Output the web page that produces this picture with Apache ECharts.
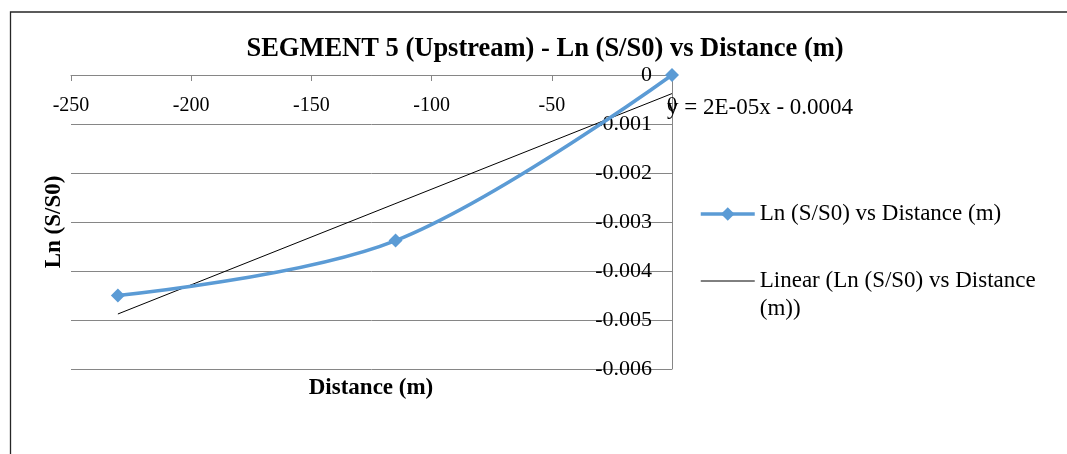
<!DOCTYPE html>
<html>
<head>
<meta charset="utf-8">
<script src="https://cdn.jsdelivr.net/npm/echarts@6/dist/echarts.min.js"></script>
<style>
  html, body { margin: 0; padding: 0; background: #ffffff; }
  #chart { width: 1067px; height: 454px; }
</style>
</head>
<body>
<div id="chart"></div>
<script>
// Measured points: distance upstream (m) and ln(S/S0)
const distances = [-230.5, -115, 0];
const lnRatio = [-0.0045, -0.00338, 0];

// Axis ranges and tick steps
const xRange = { min: -250, max: 0, interval: 50 };
const yRange = { min: -0.006, max: 0, interval: 0.001 };

// Texts
const chartTitle = 'SEGMENT 5 (Upstream) - Ln (S/S0) vs Distance (m)';
const xTitle = 'Distance (m)';
const yTitle = 'Ln (S/S0)';
const seriesName = 'Ln (S/S0) vs Distance (m)';
const trendName = 'Linear (Ln (S/S0) vs Distance (m))';
// leading empty line keeps the first text line level with the legend icon
const trendLegendText = '\nLinear (Ln (S/S0) vs Distance\n(m))';
const equationText = 'y = 2E-05x - 0.0004';

const FONT = '"Liberation Serif", "Times New Roman", serif';
const BLUE = '#5B9BD5';
const GRID_GREY = '#868686';

// Least-squares linear fit over the measured points
function linearFit(xs, ys) {
  const n = xs.length;
  const mx = xs.reduce((a, b) => a + b, 0) / n;
  const my = ys.reduce((a, b) => a + b, 0) / n;
  let sxx = 0, sxy = 0;
  for (let i = 0; i < n; i++) {
    sxx += (xs[i] - mx) * (xs[i] - mx);
    sxy += (xs[i] - mx) * (ys[i] - my);
  }
  const slope = sxy / sxx;
  return { slope: slope, intercept: my - slope * mx };
}
const fit = linearFit(distances, lnRatio);
const xLo = Math.min.apply(null, distances);
const xHi = Math.max.apply(null, distances);
const trendData = [
  [xLo, fit.slope * xLo + fit.intercept],
  [xHi, fit.slope * xHi + fit.intercept]
];
const pointData = distances.map((d, i) => [d, lnRatio[i]]);

const chart = echarts.init(document.getElementById('chart'), null, { renderer: 'canvas' });

chart.setOption({
  animation: false,
  backgroundColor: '#ffffff',
  textStyle: { fontFamily: FONT },
  title: {
    text: chartTitle,
    left: 545,
    top: 36,
    textAlign: 'center',
    padding: 0,
    textStyle: { fontFamily: FONT, fontSize: 26.5, fontWeight: 'bold', color: '#000' }
  },
  grid: { left: 71, right: 395, top: 75, bottom: 85, containLabel: false },
  xAxis: {
    type: 'value',
    position: 'top',
    min: xRange.min,
    max: xRange.max,
    interval: xRange.interval,
    axisLine: { show: true, onZero: false, lineStyle: { color: GRID_GREY, width: 1 } },
    axisTick: { show: true, inside: true, length: 6, lineStyle: { color: GRID_GREY } },
    axisLabel: { inside: true, color: '#000', fontFamily: FONT, fontSize: 20, margin: 21 },
    splitLine: { show: false }
  },
  yAxis: {
    type: 'value',
    position: 'right',
    min: yRange.min,
    max: yRange.max,
    interval: yRange.interval,
    axisLine: { show: true, onZero: false, lineStyle: { color: GRID_GREY, width: 1 } },
    axisTick: { show: false },
    axisLabel: { inside: true, margin: 20, color: '#000', fontFamily: FONT, fontSize: 22 },
    splitLine: { show: true, lineStyle: { color: GRID_GREY, width: 1 } }
  },
  legend: {
    orient: 'vertical',
    left: 699,
    top: 200,
    padding: 0,
    itemWidth: 54,
    itemHeight: 17,
    itemGap: 11,
    textStyle: { fontFamily: FONT, fontSize: 23, color: '#000', lineHeight: 28 },
    data: [
      { name: seriesName, lineStyle: { width: 3.5, color: BLUE } },
      {
        name: trendName,
        lineStyle: { width: 1, color: '#000' },
        itemStyle: { color: 'rgba(0,0,0,0)', borderWidth: 0, opacity: 0 }
      }
    ],
    formatter: function (name) {
      return name === trendName ? trendLegendText : name;
    }
  },
  graphic: [
    {
      type: 'rect',
      silent: true,
      shape: { x: 10.5, y: 12, width: 2000, height: 1000 },
      style: { fill: 'none', stroke: '#262626', lineWidth: 1.3 }
    },
    {
      type: 'text',
      silent: true,
      x: 371,
      y: 388,
      style: {
        text: xTitle,
        x: 0,
        y: 0,
        align: 'center',
        verticalAlign: 'middle',
        font: 'bold 23px ' + FONT,
        fill: '#000'
      }
    },
    {
      type: 'text',
      silent: true,
      x: 54,
      y: 222,
      rotation: Math.PI / 2,
      style: {
        text: yTitle,
        x: 0,
        y: 0,
        align: 'center',
        verticalAlign: 'middle',
        font: 'bold 23px ' + FONT,
        fill: '#000'
      }
    }
  ],
  series: [
    {
      name: seriesName,
      type: 'line',
      data: pointData,
      smooth: 0.35,
      symbol: 'diamond',
      symbolSize: 14,
      itemStyle: { color: BLUE },
      lineStyle: { color: BLUE, width: 3.5 },
      z: 3
    },
    {
      name: trendName,
      type: 'line',
      data: trendData,
      symbol: 'none',
      itemStyle: { color: '#000' },
      lineStyle: { color: '#000', width: 1 },
      endLabel: {
        show: true,
        formatter: equationText,
        distance: 0,
        offset: [-5, 14],
        color: '#000',
        fontFamily: FONT,
        fontSize: 23
      },
      z: 2
    }
  ]
});
</script>
</body>
</html>
